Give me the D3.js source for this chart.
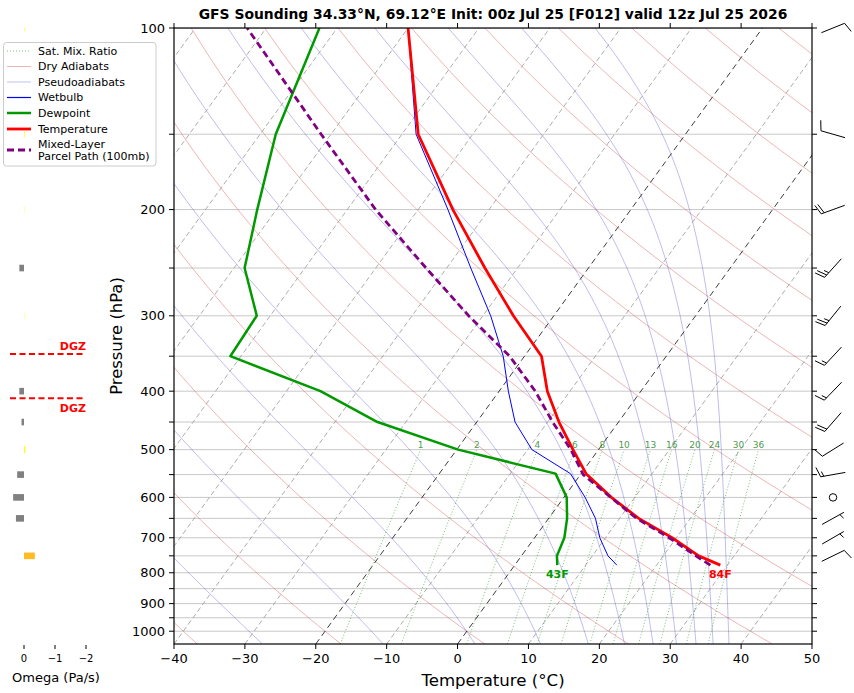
<!DOCTYPE html>
<html>
<head>
<meta charset="utf-8">
<script src="https://cdn.jsdelivr.net/npm/d3@7"></script>
<style>
  body { margin: 0; background: #fff; }
  text { font-family: "DejaVu Sans", sans-serif; }
</style>
</head>
<body>
<div id="chart"></div>
<script>
// ---- sounding data ----
const profilePressure = [777, 750, 700, 650, 600, 548, 500, 450, 400, 350, 300, 250, 200, 150, 100];
const temperature = [29.0, 25.0, 19.4, 12.7, 6.7, 0.7, -3.6, -8.4, -13.2, -17.6, -25.7, -34.6, -45.1, -57.7, -70.0];
const dewpoint = [6.0, 5.0, 4.2, 2.6, 0.4, -3.6, -19.8, -34.0, -45.2, -61.5, -61.9, -68.5, -72.7, -77.8, -82.5];
const wetbulb = [14.4, 12.2, 9.2, 6.6, 3.0, -1.5, -9.4, -14.6, -18.7, -23.0, -28.9, -36.6, -45.8, -58.0, -70.0];

const parcelPressure = [777, 750, 700, 650, 600, 550, 500, 450, 400, 350, 300, 250, 200, 150, 100];
const parcelTemp = [27.6, 24.6, 19.0, 12.4, 6.6, 0.4, -3.9, -9.3, -14.9, -22.1, -32.0, -42.9, -56.0, -71.4, -92.7];

// wind (direction from, knots)
const windPressure = [100, 150, 200, 250, 300, 350, 400, 450, 500, 550, 600, 650, 700, 750];
const windDir = [68, 286, 250, 222, 219, 223, 224, 221, 238, 260, 0, 61, 60, 64];
const windSpeed = [10, 10, 20, 25, 25, 15, 15, 20, 10, 15, 0, 5, 5, 10];

// omega (Pa/s)
const omegaPressure = [100, 150, 200, 250, 300, 350, 400, 450, 500, 550, 600, 650, 700, 750];
const omegaValues = [-0.02, -0.02, -0.01, 0.15, -0.01, 0.0, 0.15, 0.08, -0.04, 0.22, 0.35, 0.26, 0.0, -0.35];

// dendritic growth zone bounds (hPa)
const dgzPressure = [347, 411];

// background reference lines
const mixingRatios = [1, 2, 4, 6, 8, 10, 13, 16, 20, 24, 30, 36];
const dryAdiabats = [-40, -20, 0, 20, 40, 60, 80, 100, 120, 140, 160, 180, 200, 220];
const moistAdiabats = [-30, -10, 10, 30, 50, 70, 90, 110, 130, 150, 170];
const isotherms = [-100, -90, -80, -70, -60, -50, -40, -30, -20, -10, 0, 10, 20, 30, 40, 50];
const boldIsotherms = [-20, 0];

// ticks
const tempTicks = [-40, -30, -20, -10, 0, 10, 20, 30, 40, 50];
const pressureTicks = [100, 150, 200, 250, 300, 350, 400, 450, 500, 550, 600, 650, 700, 750, 800, 850, 900, 950, 1000];
const pressureLabels = [100, 200, 300, 400, 500, 600, 700, 800, 900, 1000];
const omegaTicks = [0, -1, -2];

const titleText = "GFS Sounding 34.33\u00b0N, 69.12\u00b0E Init: 00z Jul 25 [F012] valid 12z Jul 25 2026";

// ---- layout ----
const width = 854, height = 693;
const plot = { left: 174, right: 812, top: 28, bottom: 644 };

const xScale = d3.scaleLinear().domain([-40, 50]).range([plot.left, plot.right]);
const yScale = d3.scaleLog().domain([1050, 100]).range([plot.bottom, plot.top]);
const skew = Math.tan(35 * Math.PI / 180) * (plot.right - plot.left) / (plot.bottom - plot.top);
const omegaScale = d3.scaleLinear().domain([0, -2]).range([24, 86]);

// skewed position of (T, p)
function px(t, p) { return xScale(t) + skew * (plot.bottom - yScale(p)); }

// thermo helpers for reference curves
const Rd = 287.04749, Cp = 1004.6662, Lv = 2.50084e6, eps = 0.62196, kappa = Rd / Cp;
function satVap(tc) { return 6.112 * Math.exp(17.67 * tc / (tc + 243.5)); }
function moistSlope(T, p) {
  const es = satVap(T - 273.15);
  const rs = eps * es / (p - es);
  return (Rd * T + Lv * rs) / (Cp + Lv * Lv * rs * eps / (Rd * T * T)) / p;
}
function moistCurve(thetaC) {
  let T = (thetaC + 273.15) * Math.pow(100 / 1000, kappa);
  let p = 100;
  const dp = 5;
  const pts = [[T - 273.15, p]];
  while (p < 1050) {
    const k1 = moistSlope(T, p);
    const k2 = moistSlope(T + 0.5 * dp * k1, p + 0.5 * dp);
    const k3 = moistSlope(T + 0.5 * dp * k2, p + 0.5 * dp);
    const k4 = moistSlope(T + dp * k3, p + dp);
    T += dp * (k1 + 2 * k2 + 2 * k3 + k4) / 6;
    p += dp;
    pts.push([T - 273.15, p]);
  }
  return pts;
}
function dryCurve(thetaC) {
  const pts = [];
  for (let p = 1050; p >= 100; p -= 10) pts.push([(thetaC + 273.15) * Math.pow(p / 1000, kappa) - 273.15, p]);
  return pts;
}
function mixCurve(w) {
  const pts = [];
  for (let p = 1050; p >= 500; p -= 25) {
    const e = p * (w / 1000) / (eps + w / 1000);
    const l = Math.log(e / 6.112);
    pts.push([243.5 * l / (17.67 - l), p]);
  }
  return pts;
}

const line = d3.line().x(d => px(d[0], d[1])).y(d => yScale(d[1]));

const svg = d3.select("#chart").append("svg")
  .attr("width", width).attr("height", height);
svg.append("rect").attr("width", width).attr("height", height).attr("fill", "#fff");

svg.append("clipPath").attr("id", "plotclip")
  .append("rect")
  .attr("x", plot.left).attr("y", plot.top)
  .attr("width", plot.right - plot.left).attr("height", plot.bottom - plot.top);

const chart = svg.append("g").attr("clip-path", "url(#plotclip)");

// horizontal grid
chart.append("g").selectAll("line").data(pressureTicks).join("line")
  .attr("x1", plot.left).attr("x2", plot.right)
  .attr("y1", d => yScale(d)).attr("y2", d => yScale(d))
  .attr("stroke", "#c8c8c8").attr("stroke-width", 1);

// dry adiabats
chart.append("g").selectAll("path").data(dryAdiabats).join("path")
  .attr("d", d => line(dryCurve(d)))
  .attr("fill", "none").attr("stroke", "#cc3333").attr("stroke-opacity", 0.45).attr("stroke-width", 0.8);

// pseudoadiabats
chart.append("g").selectAll("path").data(moistAdiabats).join("path")
  .attr("d", d => line(moistCurve(d)))
  .attr("fill", "none").attr("stroke", "#3333cc").attr("stroke-opacity", 0.4).attr("stroke-width", 0.8);

// isotherms
chart.append("g").selectAll("line").data(isotherms).join("line")
  .attr("x1", d => px(d, 1050)).attr("y1", yScale(1050))
  .attr("x2", d => px(d, 100)).attr("y2", yScale(100))
  .attr("stroke", d => boldIsotherms.includes(d) ? "#000" : "#999")
  .attr("stroke-opacity", d => boldIsotherms.includes(d) ? 0.85 : 0.9)
  .attr("stroke-width", 0.9)
  .attr("stroke-dasharray", d => boldIsotherms.includes(d) ? "6,4" : "5,3");

// mixing ratio lines
chart.append("g").selectAll("path").data(mixingRatios).join("path")
  .attr("d", d => line(mixCurve(d)))
  .attr("fill", "none").attr("stroke", "#228b22").attr("stroke-opacity", 0.65)
  .attr("stroke-width", 0.9).attr("stroke-dasharray", "1,2");
chart.append("g").selectAll("text").data(mixingRatios).join("text")
  .attr("x", d => px(mixCurve(d).slice(-1)[0][0], 500))
  .attr("y", yScale(500) - 2)
  .attr("text-anchor", "middle")
  .attr("font-size", 9)
  .attr("fill", "#4f9a4f")
  .text(d => d);

// sounding profiles
function profile(ps, ts) { return ps.map((p, i) => [ts[i], p]); }

chart.append("path").attr("d", line(profile(profilePressure, wetbulb)))
  .attr("fill", "none").attr("stroke", "#0000ff").attr("stroke-width", 1);
chart.append("path").attr("d", line(profile(profilePressure, dewpoint)))
  .attr("fill", "none").attr("stroke", "#009a00").attr("stroke-width", 2.5).attr("stroke-linejoin", "round");
chart.append("path").attr("d", line(profile(profilePressure, temperature)))
  .attr("fill", "none").attr("stroke", "#ff0000").attr("stroke-width", 2.8).attr("stroke-linejoin", "round");
chart.append("path").attr("d", line(profile(parcelPressure, parcelTemp)))
  .attr("fill", "none").attr("stroke", "#800080").attr("stroke-width", 2.8).attr("stroke-dasharray", "7,4");

// surface labels
const sfcP = profilePressure[0];
const toF = c => Math.round(c * 9 / 5 + 32) + "F";
svg.append("text").attr("x", px(dewpoint[0], sfcP)).attr("y", yScale(sfcP) + 13)
  .attr("text-anchor", "middle").attr("font-size", 11).attr("font-weight", "bold")
  .attr("fill", "#009a00").text(toF(dewpoint[0]));
svg.append("text").attr("x", px(temperature[0], sfcP)).attr("y", yScale(sfcP) + 13)
  .attr("text-anchor", "middle").attr("font-size", 11).attr("font-weight", "bold")
  .attr("fill", "#ff0000").text(toF(temperature[0]));

// frame
svg.append("rect").attr("x", plot.left).attr("y", plot.top)
  .attr("width", plot.right - plot.left).attr("height", plot.bottom - plot.top)
  .attr("fill", "none").attr("stroke", "#000").attr("stroke-width", 1.2);

// pressure ticks (both sides)
const ticks = svg.append("g").attr("stroke", "#000").attr("stroke-width", 1);
pressureTicks.forEach(p => {
  ticks.append("line").attr("x1", plot.left - 5).attr("x2", plot.left).attr("y1", yScale(p)).attr("y2", yScale(p));
  ticks.append("line").attr("x1", plot.right).attr("x2", plot.right + 5).attr("y1", yScale(p)).attr("y2", yScale(p));
});
tempTicks.forEach(t => {
  ticks.append("line").attr("x1", xScale(t)).attr("x2", xScale(t)).attr("y1", plot.bottom).attr("y2", plot.bottom + 5);
  ticks.append("line").attr("x1", xScale(t)).attr("x2", xScale(t)).attr("y1", plot.top - 5).attr("y2", plot.top);
});
const fmt = v => (v < 0 ? "\u2212" : "") + Math.abs(v);
svg.append("g").selectAll("text").data(pressureLabels).join("text")
  .attr("x", plot.left - 9).attr("y", d => yScale(d)).attr("dy", "0.35em")
  .attr("text-anchor", "end").attr("font-size", 13).text(d => d);
svg.append("g").selectAll("text").data(tempTicks).join("text")
  .attr("x", d => xScale(d)).attr("y", plot.bottom + 19)
  .attr("text-anchor", "middle").attr("font-size", 13).text(d => fmt(d));

svg.append("text").attr("x", (plot.left + plot.right) / 2).attr("y", 19)
  .attr("text-anchor", "middle").attr("font-size", 13.9).attr("font-weight", "bold").text(titleText);
svg.append("text").attr("x", (plot.left + plot.right) / 2).attr("y", 686)
  .attr("text-anchor", "middle").attr("font-size", 16.6).text("Temperature (\u00b0C)");
svg.append("text").attr("transform", `translate(122,${(plot.top + plot.bottom) / 2}) rotate(-90)`)
  .attr("text-anchor", "middle").attr("font-size", 16.4).text("Pressure (hPa)");

// legend
const legendItems = [
  { label: ["Sat. Mix. Ratio"], color: "#228b22", width: 0.9, dash: "1,2", opacity: 0.65 },
  { label: ["Dry Adiabats"], color: "#cc3333", width: 0.8, dash: null, opacity: 0.45 },
  { label: ["Pseudoadiabats"], color: "#3333cc", width: 0.8, dash: null, opacity: 0.4 },
  { label: ["Wetbulb"], color: "#0000ff", width: 1.2, dash: null, opacity: 1 },
  { label: ["Dewpoint"], color: "#009a00", width: 2.5, dash: null, opacity: 1 },
  { label: ["Temperature"], color: "#ff0000", width: 2.8, dash: null, opacity: 1 },
  { label: ["Mixed-Layer", "Parcel Path (100mb)"], color: "#800080", width: 2.8, dash: "7,4", opacity: 1 }
];
const legendRows = [51, 66.5, 82, 97.5, 113, 129, 150];
const legend = svg.append("g");
legend.append("rect").attr("x", 3.5).attr("y", 42.5).attr("width", 152.5).attr("height", 123.5)
  .attr("rx", 3).attr("fill", "#fff").attr("fill-opacity", 0.8).attr("stroke", "#cccccc");
legendItems.forEach((it, i) => {
  const y = legendRows[i];
  legend.append("line").attr("x1", 7).attr("x2", 31).attr("y1", y).attr("y2", y)
    .attr("stroke", it.color).attr("stroke-width", it.width).attr("stroke-opacity", it.opacity)
    .attr("stroke-dasharray", it.dash);
  const t = legend.append("text").attr("x", 38).attr("font-size", 11);
  it.label.forEach((s, j) => {
    t.append("tspan").attr("x", 38).attr("y", y + (j - (it.label.length - 1) / 2) * 12).attr("dy", "0.35em").text(s);
  });
});

// omega panel
const omegaColor = v => v > 0.05 ? "#808080" : (v < -0.2 ? "#ffbb22" : "#ffff00");
svg.append("clipPath").attr("id", "omegaclip").append("rect")
  .attr("x", 0).attr("y", plot.top).attr("width", 120).attr("height", plot.bottom - plot.top);
svg.append("g").attr("clip-path", "url(#omegaclip)")
  .selectAll("rect").data(omegaPressure).join("rect")
  .attr("x", (d, i) => Math.min(omegaScale(0), omegaScale(omegaValues[i])))
  .attr("width", (d, i) => Math.abs(omegaScale(omegaValues[i]) - omegaScale(0)))
  .attr("y", d => yScale(d) - 3.3).attr("height", 6.6)
  .attr("fill", (d, i) => omegaColor(omegaValues[i]));
omegaTicks.forEach(v => {
  svg.append("line").attr("x1", omegaScale(v)).attr("x2", omegaScale(v))
    .attr("y1", plot.bottom + 1).attr("y2", plot.bottom + 5).attr("stroke", "#000");
  svg.append("text").attr("x", omegaScale(v)).attr("y", plot.bottom + 18)
    .attr("text-anchor", "middle").attr("font-size", 10).text(fmt(v));
});
svg.append("text").attr("x", 56).attr("y", 682).attr("text-anchor", "middle")
  .attr("font-size", 13).text("Omega (Pa/s)");

// DGZ markers
dgzPressure.forEach((p, i) => {
  svg.append("line").attr("x1", 10).attr("x2", 85).attr("y1", yScale(p)).attr("y2", yScale(p))
    .attr("stroke", "#ff0000").attr("stroke-width", 2).attr("stroke-dasharray", "6,3.5");
  svg.append("text").attr("x", 86).attr("y", i === 0 ? yScale(p) - 4 : yScale(p) + 14)
    .attr("text-anchor", "end").attr("font-size", 11).attr("font-weight", "bold")
    .attr("fill", "#ff0000").text("DGZ");
});

// wind barbs (pivot at middle)
const barbX = 833, barbLen = 25;
function barbPath(cx, cy, dir, spd) {
  const rad = dir * Math.PI / 180;
  const d = [Math.sin(rad), -Math.cos(rad)];   // toward where wind comes from (screen coords)
  const n = [-d[1], d[0]];                      // feather side
  const spacing = 0.125 * barbLen, h = 0.4 * barbLen, w = 0.25 * barbLen;
  const base = [cx - d[0] * barbLen / 2, cy - d[1] * barbLen / 2];
  const at = (o, side, along) => [base[0] + d[0] * (o + along) + n[0] * side, base[1] + d[1] * (o + along) + n[1] * side];
  let s = Math.round(spd / 5) * 5;
  const flags = Math.floor(s / 50); s -= flags * 50;
  const full = Math.floor(s / 10); s -= full * 10;
  const half = s >= 5;
  let path = `M${base[0]},${base[1]}L${at(barbLen, 0, 0)}`;
  let off = barbLen;
  for (let i = 0; i < flags; i++) {
    if (off !== barbLen) off += spacing / 2;
    path += `M${at(off, 0, 0)}L${at(off, h, -w / 2)}L${at(off, 0, -w)}Z`;
    off -= w + spacing;
  }
  for (let i = 0; i < full; i++) {
    path += `M${at(off, 0, 0)}L${at(off, h, w / 2)}`;
    off -= spacing;
  }
  if (half) {
    if (off === barbLen) off -= 1.5 * spacing;
    path += `M${at(off, 0, 0)}L${at(off, h / 2, w / 4)}`;
  }
  return path;
}
const barbs = svg.append("g");
windPressure.forEach((p, i) => {
  const y = yScale(p);
  if (windSpeed[i] < 2.5) {
    barbs.append("circle").attr("cx", barbX).attr("cy", y).attr("r", 0.15 * barbLen)
      .attr("fill", "none").attr("stroke", "#000").attr("stroke-width", 1);
  } else {
    barbs.append("path").attr("d", barbPath(barbX, y, windDir[i], windSpeed[i]))
      .attr("fill", "#000").attr("stroke", "#000").attr("stroke-width", 1);
  }
});
</script>
</body>
</html>
